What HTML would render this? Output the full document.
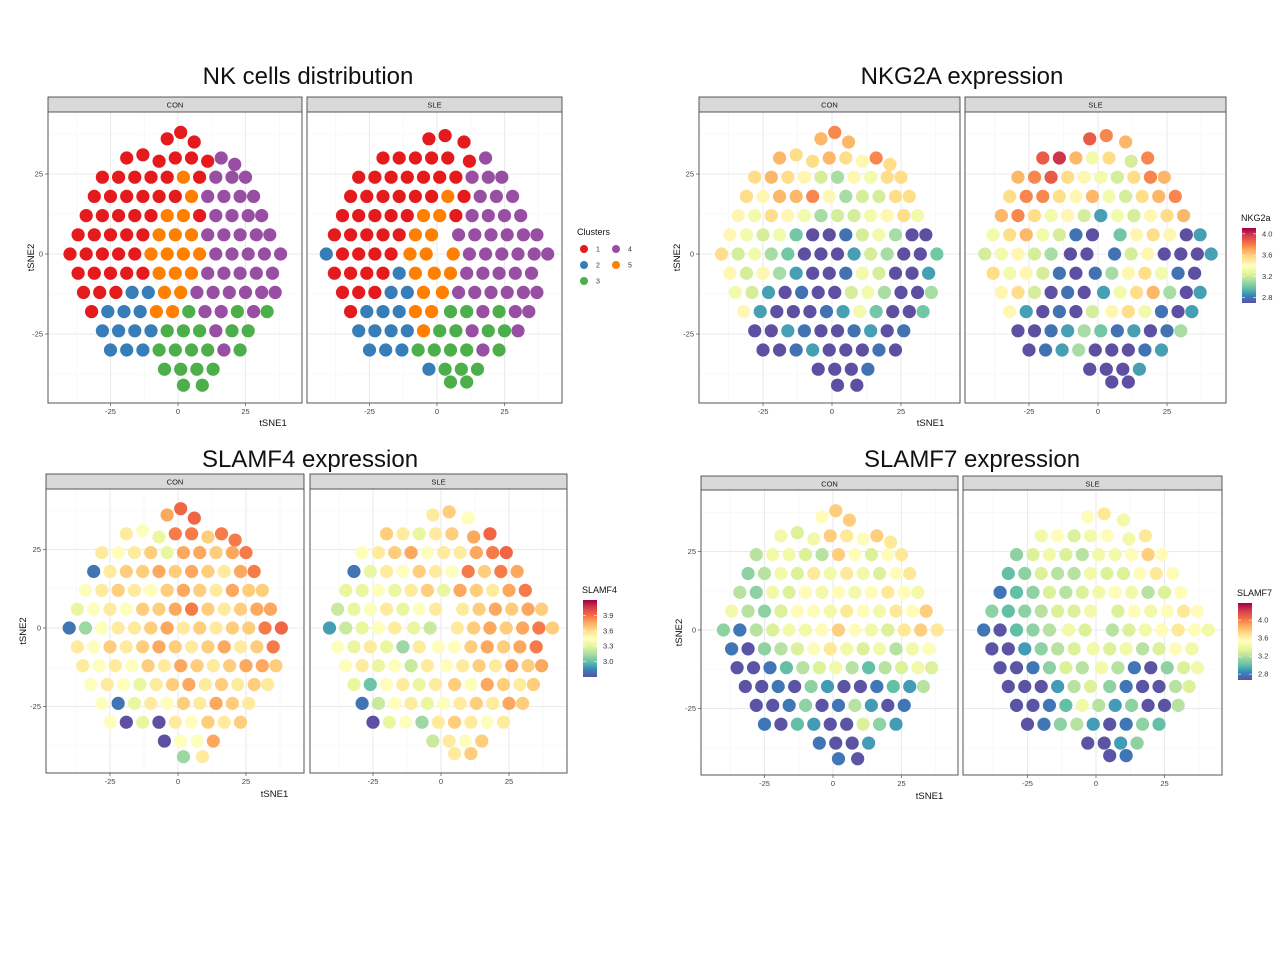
<!DOCTYPE html>
<html><head><meta charset="utf-8">
<style>
html,body{margin:0;padding:0;background:#fff;}
svg{display:block;font-family:"Liberation Sans",sans-serif;}
</style></head>
<body>
<svg id="fig" width="1280" height="960" viewBox="0 0 1280 960" xmlns="http://www.w3.org/2000/svg"></svg>
<script>
// ---------- data ----------
// point: [tSNE1, tSNE2, cluster, NKG2A, SLAMF4, SLAMF7]
const conPoints = [
[-4,36,1,3.7,3.8,3.6],[1,38,1,3.8,3.95,3.8],[6,35,1,3.7,3.95,3.8],
[-19,30,1,3.7,3.6,3.5],[-13,31,1,3.6,3.5,3.4],[-7,29,1,3.6,3.4,3.5],[-1,30,1,3.7,3.9,3.8],[5,30,1,3.6,3.9,3.7],[11,29,1,3.5,3.7,3.6],[16,30,4,3.8,3.9,3.8],[21,28,4,3.6,3.9,3.7],
[-28,24,1,3.6,3.6,3.3],[-22,24,1,3.7,3.5,3.5],[-16,24,1,3.6,3.6,3.5],[-10,24,1,3.5,3.7,3.4],[-4,24,1,3.3,3.4,3.3],[2,24,5,3.2,3.8,3.8],[8,24,1,3.5,3.8,3.6],[14,24,4,3.4,3.7,3.4],[20,24,4,3.6,3.8,3.6],[25,24,4,3.6,3.9,3.7],
[-31,18,1,3.6,2.9,3.2],[-25,18,1,3.5,3.6,3.3],[-19,18,1,3.7,3.7,3.5],[-13,18,1,3.7,3.7,3.4],[-7,18,1,3.8,3.8,3.7],[-1,18,1,3.5,3.7,3.5],[5,18,5,3.2,3.8,3.7],[11,18,4,3.3,3.7,3.5],[17,18,4,3.3,3.6,3.4],[23,18,4,3.6,3.8,3.6],[28,18,4,3.6,3.9,3.7],
[-34,12,1,3.5,3.5,3.3],[-28,12,1,3.4,3.6,3.2],[-22,12,1,3.6,3.7,3.5],[-16,12,1,3.5,3.6,3.4],[-10,12,1,3.4,3.5,3.6],[-4,12,5,3.2,3.7,3.5],[2,12,5,3.3,3.8,3.6],[8,12,1,3.3,3.7,3.5],[14,12,4,3.4,3.6,3.6],[20,12,4,3.5,3.8,3.7],[26,12,4,3.6,3.7,3.6],[31,12,4,3.4,3.7,3.5],
[-37,6,1,3.5,3.4,3.5],[-31,6,1,3.4,3.5,3.3],[-25,6,1,3.3,3.6,3.2],[-19,6,1,3.4,3.5,3.4],[-13,6,1,3.1,3.7,3.6],[-7,6,5,2.8,3.7,3.6],[-1,6,5,2.8,3.8,3.5],[5,6,5,2.9,3.9,3.7],[11,6,4,3.3,3.7,3.6],[17,6,4,3.4,3.6,3.5],[23,6,4,3.2,3.7,3.7],[29,6,4,2.8,3.8,3.6],[34,6,4,2.8,3.8,3.8],
[-40,0,1,3.6,2.9,3.2],[-34,0,1,3.3,3.2,2.9],[-28,0,1,3.4,3.5,3.3],[-22,0,1,3.2,3.6,3.4],[-16,0,1,3.1,3.6,3.5],[-10,0,5,2.8,3.7,3.5],[-4,0,5,2.8,3.8,3.6],[2,0,5,2.8,3.6,3.8],[8,0,5,3.0,3.7,3.6],[14,0,4,3.3,3.6,3.5],[20,0,4,3.2,3.7,3.4],[26,0,4,2.8,3.7,3.7],[32,0,4,2.8,3.9,3.8],[38,0,4,3.1,3.95,3.7],
[-37,-6,1,3.5,3.6,2.9],[-31,-6,1,3.3,3.5,2.8],[-25,-6,1,3.5,3.7,3.2],[-19,-6,1,3.2,3.6,3.3],[-13,-6,1,3.0,3.7,3.4],[-7,-6,5,2.8,3.8,3.6],[-1,-6,5,2.8,3.7,3.7],[5,-6,5,2.9,3.6,3.5],[11,-6,4,3.4,3.7,3.4],[17,-6,4,3.3,3.8,3.5],[23,-6,4,2.8,3.6,3.3],[29,-6,4,2.8,3.7,3.5],[35,-6,4,3.0,3.9,3.6],
[-35,-12,1,3.4,3.6,2.8],[-29,-12,1,3.3,3.5,2.8],[-23,-12,1,3.0,3.6,2.9],[-17,-12,2,2.8,3.5,3.1],[-11,-12,2,2.9,3.7,3.3],[-5,-12,5,2.8,3.6,3.4],[1,-12,5,2.8,3.8,3.5],[7,-12,4,3.3,3.7,3.3],[13,-12,4,3.4,3.6,3.1],[19,-12,4,3.2,3.7,3.3],[25,-12,4,2.8,3.8,3.4],[31,-12,4,2.8,3.8,3.5],[36,-12,4,3.2,3.7,3.4],
[-32,-18,1,3.5,3.5,2.8],[-26,-18,2,3.0,3.6,2.8],[-20,-18,2,2.8,3.5,2.9],[-14,-18,2,2.8,3.4,2.8],[-8,-18,5,2.8,3.6,3.2],[-2,-18,5,2.9,3.7,3.0],[4,-18,3,3.0,3.8,2.8],[10,-18,4,3.4,3.6,2.8],[16,-18,4,3.1,3.7,2.9],[22,-18,3,2.8,3.6,3.1],[28,-18,4,2.8,3.7,3.0],[33,-18,3,3.1,3.6,3.3],
[-28,-24,2,2.8,3.5,2.8],[-22,-24,2,2.8,2.9,2.8],[-16,-24,2,3.0,3.4,2.9],[-10,-24,2,2.9,3.6,3.2],[-4,-24,3,2.8,3.5,2.8],[2,-24,3,2.8,3.7,2.9],[8,-24,3,2.9,3.6,3.3],[14,-24,4,3.0,3.8,3.0],[20,-24,3,2.8,3.7,2.8],[26,-24,3,2.9,3.6,2.9],
[-25,-30,2,2.8,3.5,2.9],[-19,-30,2,2.8,2.8,2.8],[-13,-30,2,2.9,3.4,3.1],[-7,-30,3,3.0,2.8,3.0],[-1,-30,3,2.8,3.6,2.8],[5,-30,3,2.8,3.5,2.8],[11,-30,3,2.8,3.7,3.4],[17,-30,4,2.9,3.6,3.2],[23,-30,3,2.8,3.7,3.0],
[-5,-36,3,2.8,2.8,2.9],[1,-36,3,2.8,3.5,2.8],[7,-36,3,2.8,3.5,2.8],[13,-36,3,2.9,3.8,3.0],
[2,-41,3,2.8,3.2,2.9],[9,-41,3,2.8,3.6,2.8]
];
const slePoints = [
[-3,36,1,3.9,3.6,3.6],[3,37,1,3.8,3.7,3.7],[10,35,1,3.7,3.5,3.5],
[-20,30,1,3.9,3.7,3.5],[-14,30,1,4.0,3.6,3.6],[-8,30,1,3.7,3.4,3.4],[-2,30,1,3.4,3.6,3.5],[4,30,1,3.6,3.7,3.6],[12,29,1,3.3,3.8,3.5],[18,30,4,3.8,3.95,3.7],
[-29,24,1,3.7,3.5,3.2],[-23,24,1,3.8,3.6,3.4],[-17,24,1,3.9,3.7,3.5],[-11,24,1,3.6,3.8,3.4],[-5,24,1,3.5,3.5,3.3],[1,24,1,3.4,3.6,3.5],[7,24,1,3.3,3.6,3.5],[13,24,4,3.6,3.8,3.6],[19,24,4,3.8,3.9,3.8],[24,24,4,3.7,3.95,3.6],
[-32,18,1,3.6,2.9,3.1],[-26,18,1,3.8,3.4,3.2],[-20,18,1,3.8,3.6,3.4],[-14,18,1,3.6,3.5,3.3],[-8,18,1,3.5,3.7,3.3],[-2,18,1,3.7,3.6,3.5],[4,18,5,3.4,3.5,3.4],[10,18,1,3.3,3.9,3.4],[16,18,4,3.6,3.7,3.6],[22,18,4,3.7,3.9,3.7],[28,18,4,3.8,3.8,3.6],
[-35,12,1,3.7,3.4,2.9],[-29,12,1,3.8,3.4,3.1],[-23,12,1,3.6,3.5,3.2],[-17,12,1,3.4,3.4,3.4],[-11,12,1,3.5,3.6,3.3],[-5,12,5,3.3,3.7,3.4],[1,12,5,3.0,3.4,3.5],[7,12,1,3.4,3.8,3.6],[13,12,4,3.3,3.7,3.5],[19,12,4,3.5,3.6,3.3],[25,12,4,3.6,3.8,3.4],[31,12,4,3.7,3.9,3.6],
[-38,6,1,3.4,3.3,3.2],[-32,6,1,3.6,3.4,3.1],[-26,6,1,3.7,3.5,3.2],[-20,6,1,3.4,3.6,3.3],[-14,6,1,3.3,3.4,3.4],[-8,6,5,2.9,3.5,3.4],[-2,6,5,2.8,3.6,3.5],[8,6,4,3.1,3.6,3.4],[14,6,4,3.5,3.7,3.6],[20,6,4,3.6,3.8,3.5],[26,6,4,3.5,3.7,3.6],[32,6,4,2.8,3.8,3.7],[37,6,4,3.0,3.7,3.6],
[-41,0,2,3.3,3.0,2.9],[-35,0,1,3.4,3.3,2.8],[-29,0,1,3.5,3.4,3.1],[-23,0,1,3.3,3.5,3.2],[-17,0,1,3.2,3.6,3.3],[-10,0,5,2.8,3.4,3.5],[-4,0,5,2.8,3.3,3.4],[6,0,5,2.9,3.6,3.3],[12,0,4,3.3,3.7,3.4],[18,0,4,3.5,3.8,3.5],[24,0,4,2.8,3.7,3.6],[30,0,4,2.8,3.8,3.7],[36,0,4,2.8,3.9,3.6],[41,0,4,3.0,3.7,3.5],
[-38,-6,1,3.6,3.5,2.8],[-32,-6,1,3.4,3.4,2.8],[-26,-6,1,3.5,3.6,3.0],[-20,-6,1,3.3,3.4,3.2],[-14,-6,2,2.9,3.2,3.3],[-8,-6,5,2.8,3.6,3.4],[-1,-6,5,2.9,3.5,3.5],[5,-6,5,3.2,3.5,3.4],[11,-6,4,3.5,3.7,3.5],[17,-6,4,3.6,3.8,3.3],[23,-6,4,3.4,3.7,3.4],[29,-6,4,2.9,3.8,3.6],[35,-6,4,2.8,3.9,3.5],
[-35,-12,1,3.5,3.5,2.8],[-29,-12,1,3.6,3.6,2.8],[-23,-12,1,3.3,3.4,2.9],[-17,-12,2,2.8,3.5,3.2],[-11,-12,2,2.9,3.3,3.4],[-5,-12,5,2.8,3.6,3.3],[2,-12,5,3.0,3.5,3.5],[8,-12,4,3.4,3.6,3.3],[14,-12,4,3.6,3.7,2.9],[20,-12,4,3.7,3.6,2.8],[26,-12,4,3.2,3.8,3.2],[32,-12,4,2.8,3.7,3.4],[37,-12,4,3.0,3.8,3.5],
[-32,-18,1,3.5,3.4,2.8],[-26,-18,2,3.0,3.1,2.8],[-20,-18,2,2.8,3.5,2.8],[-14,-18,2,2.9,3.6,3.0],[-8,-18,5,2.8,3.4,3.3],[-2,-18,5,3.3,3.6,3.4],[5,-18,3,3.5,3.7,3.2],[11,-18,3,3.6,3.5,2.9],[17,-18,4,3.4,3.8,2.8],[23,-18,3,2.9,3.7,2.8],[29,-18,4,2.8,3.6,3.3],[34,-18,4,3.0,3.7,3.4],
[-29,-24,2,2.8,2.9,2.8],[-23,-24,2,2.8,3.3,2.8],[-17,-24,2,2.9,3.5,2.9],[-11,-24,2,3.0,3.6,3.1],[-5,-24,5,3.2,3.4,3.5],[1,-24,3,3.1,3.5,3.3],[7,-24,3,2.9,3.6,3.0],[13,-24,4,3.0,3.7,3.2],[19,-24,3,2.8,3.6,2.8],[25,-24,3,2.9,3.8,2.8],[30,-24,4,3.2,3.7,3.3],
[-25,-30,2,2.8,2.8,2.8],[-19,-30,2,2.9,3.4,2.9],[-13,-30,2,3.0,3.5,3.2],[-7,-30,3,3.2,3.2,3.3],[-1,-30,3,2.8,3.6,3.0],[5,-30,3,2.8,3.7,2.8],[11,-30,3,2.8,3.6,2.9],[17,-30,4,2.9,3.5,3.2],[23,-30,3,3.0,3.6,3.1],
[-3,-36,2,2.8,3.3,2.8],[3,-36,3,2.8,3.6,2.8],[9,-36,3,2.8,3.5,3.0],[15,-36,3,3.0,3.7,3.2],
[5,-40,3,2.8,3.6,2.8],[11,-40,3,2.8,3.7,2.9]
];
const clusterLabels = ["1","2","3","4","5"];
const clusterColors = ["#E41A1C","#377EB8","#4DAF4A","#984EA3","#FF7F00"];
const xTicks = [-25, 0, 25];
const yTicks = [25, 0, -25];
const facetNames = ["CON","SLE"];
const nkg2aTicks = [4.0, 3.6, 3.2, 2.8];
const slamf4Ticks = [3.9, 3.6, 3.3, 3.0];
const slamf7Ticks = [4.0, 3.6, 3.2, 2.8];
const spectral = ["#5E4FA2","#3288BD","#66C2A5","#ABDDA4","#E6F598","#FFFFBF","#FEE08B","#FDAE61","#F46D43","#D53E4F","#9E0142"];

// ---------- helpers ----------
const NS = "http://www.w3.org/2000/svg";
const svg = document.getElementById("fig");
function mk(tag, attrs, parent, text){
  const e = document.createElementNS(NS, tag);
  for (const k in attrs) e.setAttribute(k, attrs[k]);
  if (text !== undefined) e.textContent = text;
  (parent || svg).appendChild(e);
  return e;
}
function hex(h){return [parseInt(h.slice(1,3),16),parseInt(h.slice(3,5),16),parseInt(h.slice(5,7),16)];}
function spec(t){
  t = Math.max(0, Math.min(1, t));
  const p = t*(spectral.length-1), i = Math.min(Math.floor(p), spectral.length-2), f = p-i;
  const a = hex(spectral[i]), b = hex(spectral[i+1]);
  return "rgb(" + a.map((v,k)=>Math.round(v+(b[k]-v)*f)).join(",") + ")";
}

const plots = [
  {name:"nk-cells-distribution", title:"NK cells distribution", tx:308, ty:84, stripY:97, top:112, bottom:403, cy0:254, sy:3.2,
   panels:[{l:48,r:302,cx0:178,sx:2.7},{l:307,r:562,cx0:437,sx:2.7}], xtitleY:426, ytitleX:34, mode:"cluster"},
  {name:"nkg2a-expression", title:"NKG2A expression", tx:962, ty:84, stripY:97, top:112, bottom:403, cy0:254, sy:3.2,
   panels:[{l:699,r:960,cx0:832,sx:2.76},{l:965,r:1226,cx0:1098,sx:2.76}], xtitleY:426, ytitleX:680, mode:3,
   cb:{label:"NKG2a", x:1242, y0:228, y1:303, lo:2.7, hi:4.11, ticks:nkg2aTicks}},
  {name:"slamf4-expression", title:"SLAMF4 expression", tx:310, ty:467, stripY:474, top:489, bottom:773, cy0:628, sy:3.14,
   panels:[{l:46,r:304,cx0:178,sx:2.72},{l:310,r:567,cx0:441,sx:2.72}], xtitleY:797, ytitleX:26, mode:4,
   cb:{label:"SLAMF4", x:583, y0:600, y1:677, lo:2.69, hi:4.21, ticks:slamf4Ticks}},
  {name:"slamf7-expression", title:"SLAMF7 expression", tx:972, ty:467, stripY:476, top:490, bottom:775, cy0:630, sy:3.14,
   panels:[{l:701,r:958,cx0:833,sx:2.74},{l:963,r:1222,cx0:1096,sx:2.74}], xtitleY:799, ytitleX:682, mode:5,
   cb:{label:"SLAMF7", x:1238, y0:603, y1:680, lo:2.67, hi:4.38, ticks:slamf7Ticks}}
];
const facetData = [conPoints, slePoints];

plots.forEach((P, pi) => {
  const g = mk("g", {});
  
  
  const t = mk("text", {x:P.tx, y:P.ty, "text-anchor":"middle", "font-size":24, fill:"#111"}, g, P.title);
  
  

  P.panels.forEach((pn, fi) => {
    const xs = v => pn.cx0 + v*pn.sx;
    const ys = v => P.cy0 - v*P.sy;
    const pg = mk("g", {}, g);
    
    
    const st = mk("rect", {x:pn.l, y:P.stripY, width:pn.r-pn.l, height:P.top-P.stripY, fill:"#D9D9D9", stroke:"#333", "stroke-width":0.8}, pg);
    
    
    const stt = mk("text", {x:(pn.l+pn.r)/2, y:P.stripY+10.5, "text-anchor":"middle", "font-size":7.5, fill:"#1a1a1a"}, pg, facetNames[fi]);
    
    
    const gx = [-37.5,-12.5,12.5,37.5], gy = [37.5,12.5,-12.5,-37.5];
    gx.forEach(v => { const l = mk("line",{x1:xs(v),x2:xs(v),y1:P.top,y2:P.bottom,stroke:"#F4F4F4","stroke-width":0.6},pg);   });
    gy.forEach(v => { const l = mk("line",{x1:pn.l,x2:pn.r,y1:ys(v),y2:ys(v),stroke:"#F4F4F4","stroke-width":0.6},pg);   });
    xTicks.forEach(v => {
      const l = mk("line",{x1:xs(v),x2:xs(v),y1:P.top,y2:P.bottom,stroke:"#EBEBEB","stroke-width":1.1},pg);
       
      const tk = mk("line",{x1:xs(v),x2:xs(v),y1:P.bottom,y2:P.bottom+3,stroke:"#333","stroke-width":0.6},pg);
       
      const tl = mk("text",{x:xs(v),y:P.bottom+11,"text-anchor":"middle","font-size":7.5,fill:"#444"},pg,String(v));
       
    });
    yTicks.forEach(v => {
      const l = mk("line",{x1:pn.l,x2:pn.r,y1:ys(v),y2:ys(v),stroke:"#EBEBEB","stroke-width":1.1},pg);
       
      if (fi === 0) {
        const tk = mk("line",{x1:pn.l-3,x2:pn.l,y1:ys(v),y2:ys(v),stroke:"#333","stroke-width":0.6},pg);
         
        const tl = mk("text",{x:pn.l-5,y:ys(v)+2.5,"text-anchor":"end","font-size":7.5,fill:"#444"},pg,String(v));
         
      }
    });
    const pts = facetData[fi];
    pts.forEach(p => {
      let col;
      if (P.mode === "cluster") col = clusterColors[p[2]-1];
      else { const lo = P.cb.lo + 0.12; col = spec((p[P.mode]-lo)/(P.cb.hi-lo)); }
      const c = mk("circle",{cx:xs(p[0]),cy:ys(p[1]),r:6.6,fill:col},pg);
      
      
    });
    const bd = mk("rect",{x:pn.l,y:P.top,width:pn.r-pn.l,height:P.bottom-P.top,fill:"none",stroke:"#555","stroke-width":1},pg);
    
    
  });
  const xt = mk("text",{x:(P.panels[0].l+P.panels[1].r)/2 - 32,y:P.xtitleY,"text-anchor":"middle","font-size":9.5,fill:"#111"},g,"tSNE1");
  
  
  const ymid = (P.top+P.bottom)/2;
  const yt = mk("text",{x:P.ytitleX,y:ymid,"text-anchor":"middle","font-size":9.5,fill:"#111",transform:"rotate(-90 "+P.ytitleX+" "+ymid+")"},g,"tSNE2");
  
  

  if (P.mode === "cluster") {
    const lg = mk("g",{},g);
    
    
    const lt = mk("text",{x:577,y:235,"font-size":9,fill:"#111"},lg,"Clusters");
    
    
    clusterLabels.forEach((lab, i) => {
      const col = i < 3 ? 0 : 1, row = i < 3 ? i : i-3;
      const cx = 584 + col*32, cy = 249 + row*16;
      const e = mk("g",{},lg);
      
      
      mk("circle",{cx:cx,cy:cy,r:4,fill:clusterColors[i]},e);
      mk("text",{x:cx+12,y:cy+2.5,"font-size":7,fill:"#333"},e,lab);
    });
  } else {
    const cb = P.cb;
    const lg = mk("g",{},g);
    
    
    const lt = mk("text",{x:cb.x-1,y:cb.y0-7,"font-size":9,fill:"#111"},lg,cb.label);
    
    
    const gid = "grad" + pi;
    const defs = mk("defs",{},lg);
    const lgd = mk("linearGradient",{id:gid,x1:0,y1:1,x2:0,y2:0},defs);
    spectral.forEach((c,i)=> mk("stop",{offset:(i/(spectral.length-1)),"stop-color":c},lgd));
    const bar = mk("rect",{x:cb.x,y:cb.y0,width:14,height:cb.y1-cb.y0,fill:"url(#"+gid+")"},lg);
    
    
    cb.ticks.forEach(v => {
      const yy = cb.y1 - (v-cb.lo)/(cb.hi-cb.lo)*(cb.y1-cb.y0);
      mk("line",{x1:cb.x,x2:cb.x+3,y1:yy,y2:yy,stroke:"#fff","stroke-width":0.6},lg);
      mk("line",{x1:cb.x+11,x2:cb.x+14,y1:yy,y2:yy,stroke:"#fff","stroke-width":0.6},lg);
      const tl = mk("text",{x:cb.x+20,y:yy+2.5,"font-size":7.5,fill:"#333"},lg,v.toFixed(1));
      
      
    });
  }
});
</script>
</body></html>
